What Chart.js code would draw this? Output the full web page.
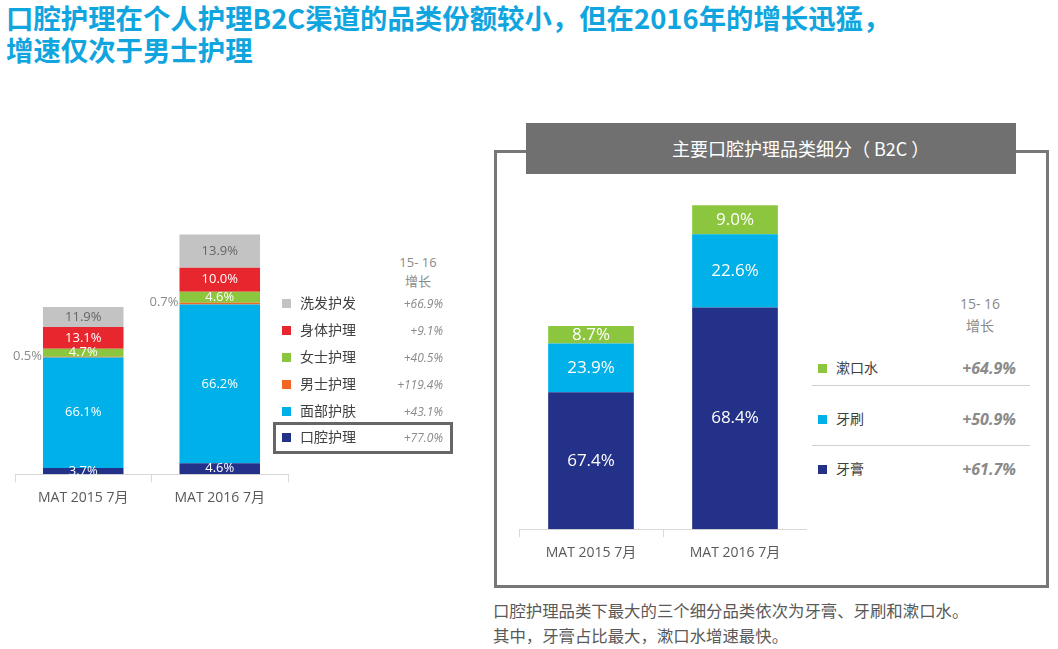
<!DOCTYPE html>
<html>
<head>
<meta charset="utf-8">
<script src="https://cdn.jsdelivr.net/npm/chart.js@4.4.0/dist/chart.umd.min.js"></script>
<style>
  body { margin: 0; width: 1058px; height: 649px; background: #fff; position: relative; overflow: hidden;
         font-family: "Open Sans", "Noto Sans CJK SC", sans-serif; }
  .title { position: absolute; left: 6px; top: 1px; color: #10a5de; font-weight: bold; font-size: 27.4px; line-height: 32px;
           font-family: "Noto Sans CJK SC", sans-serif; }
  .abs { position: absolute; }
  .hdr { color: #8a8a8a; text-align: center; font-size: 13px; line-height: 19px; }
  .leg { position: absolute; color: #404040; font-family: "Noto Sans CJK SC", sans-serif; }
  .leg .sq { position: absolute; width: 9px; height: 9px; }
  .gr { position: absolute; font-style: italic; color: #8a8a8a; text-align: right; font-family: "Open Sans", sans-serif; }
  #frame { position: absolute; left: 494px; top: 150px; width: 549px; height: 432px; border: 3px solid #777; }
  #head { position: absolute; left: 526px; top: 123px; width: 344px; height: 51px; padding-left: 146px; background: #707070; color: #fff;
          font-size: 18px; line-height: 51px; white-space: nowrap; font-family: "Noto Sans CJK SC", sans-serif; }
  #note { position: absolute; left: 493px; top: 598px; font-size: 16.4px; line-height: 25px; color: #595959;
          font-family: "Noto Sans CJK SC", sans-serif; }
  #box1 { position: absolute; left: 273px; top: 422px; width: 174px; height: 26px; border: 3px solid #666; }
</style>
</head>
<body>
<div class="title">口腔护理在个人护理B2C渠道的品类份额较小，但在2016年的增长迅猛，<br>增速仅次于男士护理</div>

<div id="frame"></div>
<div id="head">主要口腔护理品类细分（ B2C ）</div>
<div id="box1"></div>

<div class="abs" style="left:0;top:200px;width:300px;height:313px;"><canvas id="c1"></canvas></div>
<div class="abs" style="left:519px;top:180px;width:288px;height:388px;"><canvas id="c2"></canvas></div>

<div class="abs hdr" style="left:393px;top:253px;width:50px;">15- 16<br>增长</div>
<div class="abs hdr" style="left:950px;top:293px;width:60px;font-size:14px;line-height:22px;">15- 16<br>增长</div>
<div id="leg1"></div>
<div id="leg2"></div>
<div class="abs" style="left:812px;top:385px;width:218px;height:1px;background:#d0d0d0;"></div>
<div class="abs" style="left:812px;top:445px;width:218px;height:1px;background:#d0d0d0;"></div>

<div id="note">口腔护理品类下最大的三个细分品类依次为牙膏、牙刷和漱口水。<br>其中，牙膏占比最大，漱口水增速最快。</div>

<script>
// categories
var periods = ["MAT 2015 7月", "MAT 2016 7月"];

// left chart: personal care B2C share (bottom to top)
var careNames = ["口腔护理", "面部护肤", "男士护理", "女士护理", "身体护理", "洗发护发"];
var careColors = ["#233288", "#00b0e8", "#f26522", "#8cc63e", "#e8262e", "#c3c3c3"];
var oral = [3.7, 4.6];
var face = [66.1, 66.2];
var men = [0.5, 0.7];
var women = [4.7, 4.6];
var body = [13.1, 10.0];
var hair = [11.9, 13.9];
var careGrowth = ["+77.0%", "+43.1%", "+119.4%", "+40.5%", "+9.1%", "+66.9%"];
// relative market size (bar height), 2015 = 100
var careTotal = [100, 143.4];

// right chart: oral care sub-categories (bottom to top)
var oralNames = ["牙膏", "牙刷", "漱口水"];
var oralColors = ["#233288", "#00b0e8", "#8cc63e"];
var toothpaste = [67.4, 68.4];
var toothbrush = [23.9, 22.6];
var mouthwash = [8.7, 9.0];
var oralGrowth = ["+61.7%", "+50.9%", "+64.9%"];
var oralTotal = [100, 159.4];

function scaled(pcts, totals) {
  return pcts.map(function(p, i) { return p * totals[i] / 100; });
}

// draws the percentage inside each segment
var segLabels = {
  id: "segLabels",
  afterDatasetsDraw: function(chart) {
    var ctx = chart.ctx;
    var o = chart.options.plugins.segLabels;
    ctx.save();
    ctx.textBaseline = "middle";
    chart.data.datasets.forEach(function(ds, di) {
      chart.getDatasetMeta(di).data.forEach(function(bar, i) {
        var txt = ds.pct[i].toFixed(1) + "%";
        var y = (bar.y + bar.base) / 2;
        ctx.font = o.font;
        if (ds.outside) {
          ctx.fillStyle = "#8a8a8a";
          ctx.textAlign = "right";
          ctx.fillText(txt, bar.x - bar.width / 2 - 1, y - 1);
          return;
        }
        ctx.fillStyle = ds.labelColor || "#fff";
        ctx.textAlign = "center";
        ctx.fillText(txt, bar.x, y);
      });
    });
    ctx.restore();
  }
};

function makeChart(id, datasets, max, barPct, fontSize, pad) {
  return new Chart(document.getElementById(id), {
    type: "bar",
    data: { labels: periods, datasets: datasets },
    plugins: [segLabels],
    options: {
      responsive: true,
      maintainAspectRatio: false,
      animation: false,
      layout: { padding: pad },
      datasets: { bar: { barPercentage: barPct, categoryPercentage: 1 } },
      plugins: {
        legend: { display: false },
        tooltip: { enabled: false },
        segLabels: { font: fontSize + "px 'Open Sans', sans-serif" }
      },
      scales: {
        x: {
          stacked: true,
          grid: { drawOnChartArea: false, color: "#d9d9d9", tickLength: 8 },
          border: { color: "#d9d9d9" },
          ticks: { color: "#595959", font: { size: 14, family: "'Open Sans','Noto Sans CJK SC'" }, padding: 7 }
        },
        y: { stacked: true, display: false, min: 0, max: max }
      }
    }
  });
}

var carePcts = [oral, face, men, women, body, hair];
var ds1 = carePcts.map(function(p, k) {
  return {
    label: careNames[k],
    data: scaled(p, careTotal),
    pct: p,
    backgroundColor: careColors[k],
    outside: k === 2,
    labelColor: k === 5 ? "#666" : "#fff"
  };
});
makeChart("c1", ds1, 164, 0.59, 13, { left: 15, right: 12 });

var oralPcts = [toothpaste, toothbrush, mouthwash];
var ds2 = oralPcts.map(function(p, k) {
  return { label: oralNames[k], data: scaled(p, oralTotal), pct: p, backgroundColor: oralColors[k] };
});
makeChart("c2", ds2, 171.8, 0.595, 17, 0);

// legends with growth figures
function legend(el, names, colors, growth, rows, x, gx, font, gfont, bold) {
  var html = "";
  for (var k = names.length - 1; k >= 0; k--) {
    var y = rows[names.length - 1 - k];
    html += '<div class="leg" style="left:' + x + 'px;top:' + (y - 11) + 'px;font-size:' + font + 'px;">' +
      '<span class="sq" style="left:0;top:7px;background:' + colors[k] + '"></span>' +
      '<span style="position:absolute;left:18px;white-space:nowrap;">' + names[k] + '</span></div>' +
      '<div class="gr" style="left:' + (gx - 90) + 'px;width:90px;top:' + (y - gfont * 0.7) + 'px;font-size:' + gfont + 'px;' +
      (bold ? 'font-weight:bold;' : '') + '">' + growth[k] + '</div>';
  }
  document.getElementById(el).innerHTML = html;
}
legend("leg1", careNames, careColors, careGrowth, [303, 330, 357, 384, 411, 437], 282, 443, 14, 12, false);
legend("leg2", oralNames, oralColors, oralGrowth, [368, 419, 469], 818, 1016, 14, 16, true);
</script>
</body>
</html>
